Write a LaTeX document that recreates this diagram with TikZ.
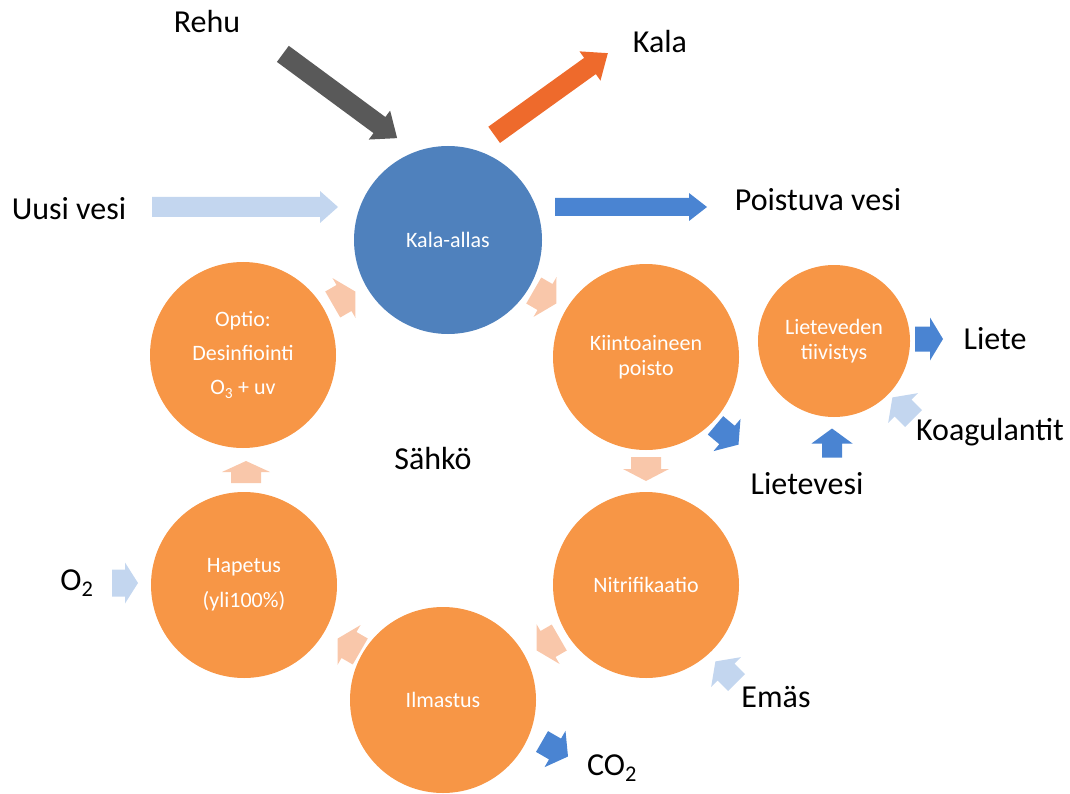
\documentclass[tikz,border=0pt]{standalone}
\usepackage{fontspec}
\setmainfont{Carlito}
\definecolor{poolblue}{HTML}{4F81BD}
\definecolor{procorange}{HTML}{F79646}
\definecolor{salmon}{HTML}{F9C7AA}
\definecolor{paleblue}{HTML}{C3D6EF}
\definecolor{midblue}{HTML}{4A84D2}
\definecolor{feedgrey}{HTML}{595959}
\definecolor{fishred}{HTML}{EE6A2C}
\newcommand\barrow[7]{%
  \begin{scope}[shift={(#2)},rotate=#3]
    \fill[#1] (-#4/2,-#6/2) -- (#4/2-#5,-#6/2) -- (#4/2-#5,-#7/2) -- (#4/2,0)
      -- (#4/2-#5,#7/2) -- (#4/2-#5,#6/2) -- (-#4/2,#6/2) -- cycle;
  \end{scope}}
\tikzset{
  proc/.style={circle,fill=procorange,draw=none,inner sep=0pt,text=white,
    align=center,font=\fontsize{22}{25}\selectfont},
  outer/.style={inner sep=0pt,text=black,font=\fontsize{32}{38}\selectfont},
}
\begin{document}
\begin{tikzpicture}[x=1pt,y=-1pt]
\useasboundingbox (0,0) rectangle (1070,794);
% circles
\node[proc,fill=poolblue,minimum size=188] (kala) at (448,240) {Kala-allas};
\node[proc,minimum size=186,font=\fontsize{22}{34}\selectfont] (optio) at (243,355) {Optio:\\Desinfiointi\\O\textsubscript{3} + uv};
\node[proc,minimum size=186] (kiinto) at (646,357) {Kiintoaineen\\poisto};
\node[proc,minimum size=152] (liete) at (834,341) {Lieteveden\\tiivistys};
\node[proc,minimum size=186,font=\fontsize{22}{35}\selectfont] (hapetus) at (244,585) {Hapetus\\(yli100\%)};
\node[proc,minimum size=186] (nitri) at (646,585) {Nitrifikaatio};
\node[proc,minimum size=186] (ilma) at (443,700) {Ilmastus};
% outer labels
\node[outer] (rehu) at (207,22) {Rehu};
\node[outer] (kalaout) at (660,42) {Kala};
\node[outer] (uusi) at (69,209) {Uusi vesi};
\node[outer] (poist) at (818,200) {Poistuva vesi};
\node[outer] (lieteout) at (995,339) {Liete};
\node[outer] (koag) at (990,432) {Koagulantit};
\node[outer] (lvesi) at (807,484) {Lietevesi};
\node[outer] (sahko) at (433,459) {Sähkö};
\node[outer] (o2) at (77,583) {O\textsubscript{2}};
\node[outer] (emas) at (776,697) {Emäs};
\node[outer] (co2) at (612,768) {CO\textsubscript{2}};
% big arrows
\barrow{feedgrey}{340,96}{-36.4}{142}{22}{20}{36}
\barrow{fishred}{551,94}{35.7}{140}{22}{20}{36}
\barrow{paleblue}{245,207}{0}{186}{18}{20}{32}
\barrow{midblue}{631,207}{0}{152}{18}{18}{28}
% cycle arrows
\barrow{salmon}{344,298}{30}{26}{13}{30}{46}
\barrow{salmon}{545,297}{-30}{26}{13}{30}{46}
\barrow{salmon}{646,469}{-90}{24}{12}{30}{46}
\barrow{salmon}{548,644}{-150}{26}{13}{30}{46}
\barrow{salmon}{349,645}{150}{26}{13}{30}{46}
\barrow{salmon}{246,472}{90}{22}{11}{30}{48}
% side arrows
\barrow{midblue}{727,435}{-40}{30}{15}{24}{42}
\barrow{midblue}{832,443}{90}{29}{15}{20}{41}
\barrow{midblue}{929,339}{0}{28}{13}{25}{43}
\barrow{paleblue}{903,408}{135}{30}{15}{24}{42}
\barrow{paleblue}{125,583}{0}{26}{13}{27}{41}
\barrow{paleblue}{726,672}{135}{30}{15}{24}{42}
\barrow{midblue}{555,749}{-30}{30}{15}{24}{42}
\end{tikzpicture}
\end{document}
